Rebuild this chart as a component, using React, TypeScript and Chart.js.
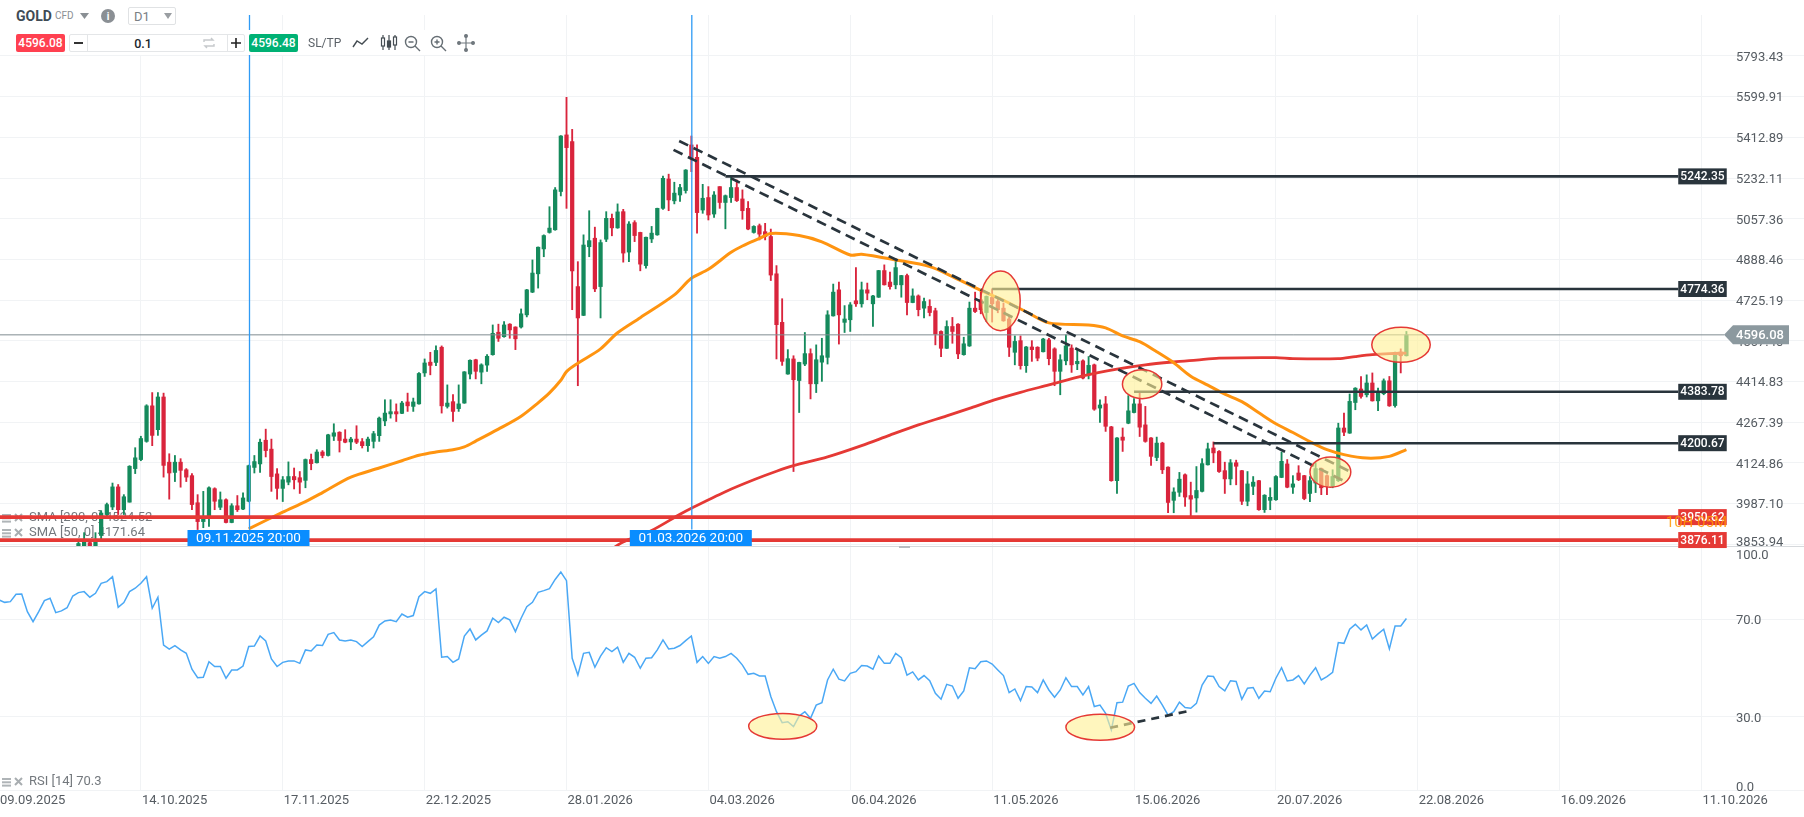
import React, { useEffect, useRef } from "react";
import { Chart, registerables } from "chart.js";

Chart.register(...registerables);

const firstCandle = 14;
const opens = [
3820,3830,3868,3810,3891,3959,3984,4051,3975,4000,4113,4144,4207,4333,4248,4365,4135,4100,4135,4109,
4089,3998,3936,3947,4045,3983,4008,3933,3988,3977,4003,4117,4129,4211,4180,4095,4046,4067,4086,4082,
4073,4144,4133,4170,4158,4225,4239,4215,4205,4215,4206,4192,4207,4227,4279,4304,4312,4306,4347,4331,
4340,4453,4493,4492,4549,4331,4348,4323,4343,4449,4502,4456,4482,4521,4606,4589,4637,4626,4626,4673,
4762,4835,4936,5004,5015,5177,5426,5396,4784,4671,4945,4980,4784,4976,5063,5023,5091,4923,5045,5004,
4868,4977,4994,5105,5231,5137,5162,5181,5381,5326,5098,5151,5081,5198,5130,5151,5194,5145,5105,5004,
5032,5007,4987,4835,4644,4449,4505,4425,4486,4525,4413,4493,4511,4669,4771,4644,4654,4728,4716,4771,
4716,4742,4848,4802,4791,4791,4828,4721,4747,4699,4706,4689,4609,4545,4628,4637,4521,4554,4699,4732,
4682,4741,4725,4699,4657,4530,4574,4480,4550,4549,4532,4577,4543,4459,4498,4546,4487,4498,4446,4483,
4325,4340,4258,4072,4222,4271,4309,4340,4265,4219,4151,4201,4118,4006,4033,4092,4022,4014,4036,4126,
4184,4172,4106,4078,4133,4106,4003,4053,4072,3975,4006,4008,4083,4129,4050,4098,4089,4029,4064,4113,
4089,4053,4072,4254,4236,4345,4394,4373,4416,4351,4377,4424,4334,4531,4517
];
const highs = [
3874,3900,3878,3900,3972,3997,4064,4059,4025,4123,4185,4225,4337,4381,4381,4379,4164,4158,4147,4113,
4096,4025,4036,4051,4048,4034,4011,3995,4022,4031,4125,4158,4215,4250,4215,4113,4086,4136,4115,4103,
4146,4163,4178,4175,4232,4269,4241,4248,4221,4262,4217,4222,4242,4293,4355,4355,4340,4349,4379,4361,
4454,4505,4530,4554,4554,4409,4374,4409,4458,4502,4504,4487,4521,4634,4637,4647,4639,4627,4696,4773,
4891,4944,4994,5112,5194,5423,5598,5451,4884,4994,5095,5026,4973,5091,5081,5124,5101,5049,5053,5005,
4985,5029,5106,5244,5252,5217,5208,5272,5421,5381,5208,5198,5177,5198,5162,5241,5227,5184,5134,5032,
5039,5042,5018,4868,4736,4540,4517,4493,4605,4543,4558,4583,4689,4794,4802,4709,4721,4860,4802,4798,
4749,4849,4871,4842,4895,4829,4834,4775,4751,4739,4732,4699,4611,4650,4663,4639,4587,4723,4762,4771,
4747,4775,4735,4719,4667,4592,4592,4552,4574,4551,4583,4583,4547,4521,4596,4558,4540,4502,4514,4486,
4355,4367,4260,4220,4254,4370,4359,4385,4331,4220,4222,4204,4119,4048,4100,4095,4067,4120,4147,4201,
4205,4175,4135,4144,4142,4107,4103,4086,4073,4025,4048,4089,4170,4144,4089,4123,4090,4086,4133,4115,
4092,4109,4271,4307,4376,4399,4440,4446,4453,4397,4431,4440,4531,4543,4609
];
const lows = [
3810,3815,3810,3800,3878,3953,3975,3959,3959,4000,4096,4140,4204,4192,4228,4084,4010,4069,4050,4069,
3975,3910,3916,3920,3975,3975,3932,3932,3969,3975,4001,4098,4100,4153,4036,4010,4002,4058,4044,4029,
4048,4109,4132,4150,4156,4210,4170,4202,4178,4199,4184,4172,4184,4207,4262,4289,4277,4305,4313,4313,
4339,4440,4446,4480,4307,4325,4277,4313,4342,4431,4431,4413,4459,4519,4571,4587,4583,4540,4622,4665,
4760,4778,4904,5001,5013,5158,5105,4693,4406,4670,4904,4764,4661,4966,4990,5021,4882,4884,4966,4847,
4858,4962,4992,5101,5095,5124,5134,5170,5263,5001,5084,5056,5067,5105,5019,5130,5134,5059,5015,5001,
4973,4973,4808,4505,4481,4448,4103,4309,4480,4358,4381,4422,4486,4668,4561,4605,4609,4706,4703,4732,
4628,4741,4790,4774,4775,4742,4673,4720,4669,4661,4669,4558,4514,4544,4564,4506,4519,4552,4682,4677,
4647,4645,4681,4648,4514,4483,4467,4455,4496,4498,4531,4483,4406,4373,4483,4455,4465,4431,4431,4317,
4274,4242,4070,4029,4172,4269,4308,4224,4204,4124,4140,4096,3965,3965,4019,3986,3948,3967,4034,4125,
4133,4100,4029,4058,4058,3992,3988,4025,3973,3966,3975,4006,4082,4048,4029,4072,4008,4002,4032,4025,
4025,4048,4069,4227,4235,4319,4361,4365,4350,4316,4373,4331,4328,4453,4516
];
const closes = [
3865,3872,3825,3878,3964,3992,4051,3975,4018,4121,4150,4217,4333,4228,4365,4124,4098,4135,4107,4084,
3992,3936,3947,4048,4003,4008,3933,3988,3975,4014,4123,4137,4204,4175,4086,4046,4075,4086,4075,4067,
4144,4130,4170,4158,4230,4237,4210,4204,4215,4204,4192,4215,4234,4289,4307,4312,4304,4343,4333,4347,
4451,4490,4481,4537,4333,4343,4313,4340,4457,4500,4459,4483,4515,4602,4583,4634,4615,4581,4677,4771,
4838,4943,4991,5022,5184,5421,5369,4847,4661,4952,4970,4775,4962,5063,5023,5090,4919,5039,4991,4874,
4984,5001,5105,5234,5141,5170,5194,5270,5321,5087,5148,5077,5162,5130,5159,5194,5138,5095,5018,5029,
4997,4987,4830,4635,4496,4506,4428,4492,4525,4413,4502,4517,4673,4762,4673,4657,4712,4716,4771,4758,
4747,4848,4791,4784,4860,4828,4721,4747,4693,4725,4682,4599,4545,4628,4609,4524,4562,4699,4686,4693,
4745,4716,4693,4650,4549,4571,4480,4550,4540,4508,4580,4506,4459,4502,4554,4483,4496,4434,4481,4321,
4336,4260,4072,4219,4211,4315,4340,4257,4207,4155,4201,4109,3999,4034,4077,4017,4010,4039,4130,4181,
4167,4103,4078,4133,4121,4003,4061,4067,3975,4023,4016,4086,4138,4050,4061,4075,4012,4072,4113,4048,
4055,4086,4254,4239,4349,4397,4367,4416,4351,4381,4424,4333,4528,4517,4596.08
];

const sma50Index = [44,50,54,57,62,67,71,74,77,80,82,84,88,92,95,97,99,100,102,106,109,113,119,122,125,129,131,134,136,141,145,150,152,158,164,168,173,177,181,185,192,195,198,201,204,207,210,213,216,219,222,225,228,231,234,237,241,245,248];
const sma50Values = [3912,3967,4002,4032,4084,4115,4140,4159,4170,4178,4188,4208,4250,4296,4344,4380,4426,4458,4489,4543,4604,4662,4751,4817,4853,4922,4948,4979,5000,4991,4965,4911,4914,4891,4864,4824,4769,4730,4685,4642,4634,4623,4592,4570,4532,4491,4441,4408,4375,4348,4308,4269,4238,4206,4178,4161,4149,4155,4178];
const sma200Index = [108,110,115,120,122,128,133,137,140,146,152,157,162,167,171,176,180,185,191,197,202,207,211,215,225,228,236,239,242,245,248];
const sma200Values = [3848,3870,3907,3960,3980,4035,4075,4104,4123,4153,4192,4229,4265,4297,4324,4358,4382,4409,4442,4467,4483,4494,4501,4508,4510,4506,4506,4514,4521,4525,4527];

const rsiValues = [
77.9,76.9,77.2,80.2,80.3,73.1,69.0,73.1,77.6,78.6,72.7,73.4,74.7,79.5,80.9,81.3,79.0,80.6,84.7,85.4,
87.4,74.9,76.8,81.3,82.7,84.7,87.4,74.5,79.0,59.4,57.7,59.2,57.4,56.0,49.5,46.0,46.2,52.6,50.6,50.6,
45.8,49.2,49.2,50.8,58.8,59.0,63.1,61.1,53.7,50.6,52.3,52.9,52.9,51.9,57.4,57.0,59.4,59.2,63.8,64.5,
61.5,61.1,61.5,60.8,58.8,60.8,62.8,67.6,69.3,69.7,69.0,72.1,70.8,71.5,79.2,81.3,80.6,82.4,54.4,54.7,
52.3,53.7,63.1,66.0,61.5,63.5,65.2,70.4,68.6,70.8,69.7,64.9,70.4,75.1,76.9,81.0,81.7,82.5,86.3,89.3,
85.8,54.0,47.1,56.0,56.4,50.3,54.9,58.3,56.7,58.5,52.3,56.0,54.4,49.9,54.0,54.2,57.4,61.5,57.8,58.1,
59.2,61.2,63.1,52.3,54.7,51.9,54.7,54.0,54.7,56.0,54.0,51.2,47.4,47.8,46.7,46.7,38.3,32.1,27.6,28.0,
26.0,30.3,32.1,29.4,34.8,35.8,45.1,49.5,45.4,44.7,47.8,48.5,51.0,50.8,49.5,54.9,51.9,51.9,56.0,54.2,
47.1,48.4,45.1,46.9,44.8,39.6,37.2,43.3,42.6,37.6,40.6,50.1,49.7,52.6,52.9,51.6,49.2,46.9,39.9,41.4,
36.6,42.4,42.2,39.9,45.1,41.0,38.0,41.0,46.0,42.4,42.4,39.0,42.4,34.2,34.8,31.4,24.6,35.8,36.0,42.6,
43.7,39.9,37.6,35.5,38.5,34.8,30.7,32.1,36.0,33.8,33.5,35.5,43.0,46.7,46.5,42.4,40.6,44.8,44.5,37.2,
41.7,42.0,37.6,40.6,40.3,45.8,50.1,44.7,45.1,46.9,43.5,47.1,50.1,45.1,46.5,48.2,60.4,60.1,65.9,67.9,
65.6,67.6,61.9,64.0,65.9,57.8,67.2,67.2,70.3
];

const dateTickIndex = [0,25,50,75,100,125,150,175,200,225,250,275,300];
const dateTickLabels = ["09.09.2025","14.10.2025","17.11.2025","22.12.2025","28.01.2026","04.03.2026","06.04.2026","11.05.2026","15.06.2026","20.07.2026","22.08.2026","16.09.2026","11.10.2026"];
const priceGridValues = [5793.43,5601.0,5414.9,5235.0,5061.1,4893.0,4730.5,4573.3,4421.4,4274.5,4132.5,3995.3,3862.6];
const priceTickLabels = ["5793.43","5599.91","5412.89","5232.11","5057.36","4888.46","4725.19","4567.40","4414.83","4267.39","4124.86","3987.10","3853.94"];
const rsiTicks = [100,70,30,0];

const priceMin = 3857;
const priceMax = 5994;
const indexMin = 0.176;
const indexMax = 318.06;
const lineEnd = 295.9;
const currentPrice = 4596.08;

const blackLevels = [5242.35,4774.36,4383.78,4200.67];
const blackLevelStart = [128,175,200,214];
const redLevels = [3950.62,3876.11];
const verticalIndex = [44.14,122.08];
const verticalLabels = ["09.11.2025 20:00","01.03.2026 20:00"];
const verticalBottom = 3910;

const trendUpperIndex = [119.85,238.07];
const trendUpperValues = [5399,4103];
const trendLowerIndex = [118.86,236.8];
const trendLowerValues = [5359,4073];
const rsiTrendIndex = [195.8,209.9];
const rsiTrendValues = [25.5,32.5];

const priceEllipses = [
  [173.0,179.95,4846,4612],
  [197.96,204.9,4465,4359],
  [231.0,238.2,4153,4050],
  [241.9,252.2,4625,4493],
];
const rsiEllipses = [
  [132.1,144.1,31.4,20.8],
  [188.0,200.1,31.0,20.4],
];

const GREEN = "#158a5c";
const RED = "#d9243c";
const DARK = "#29343c";
const LINE_RED = "#e53935";
const FONT = "Roboto";

const pts = (xs: number[], ys: number[]) => xs.map((x, i) => ({ x, y: ys[i] }));

const segment = (data: any[], color: string, width: number, yAxisID = "y", dash: number[] = [], order = 5, tension = 0) => ({
  type: "line" as const,
  data,
  borderColor: color,
  borderWidth: width,
  borderDash: dash,
  pointRadius: 0,
  pointHoverRadius: 0,
  tension,
  fill: false,
  yAxisID,
  order,
});

function drawIndicatorIcon(ctx: CanvasRenderingContext2D, y: number) {
  ctx.fillStyle = "rgba(110,118,124,0.55)";
  for (let i = 0; i < 3; i++) ctx.fillRect(2, y - 4 + i * 3.3, 9, 2);
  ctx.strokeStyle = "rgba(110,118,124,0.6)";
  ctx.lineWidth = 2;
  ctx.beginPath();
  ctx.moveTo(15, y - 4);
  ctx.lineTo(22, y + 3);
  ctx.moveTo(22, y - 4);
  ctx.lineTo(15, y + 3);
  ctx.stroke();
}

const overlayPlugin = {
  id: "overlay",
  beforeDraw(chart: any) {
    const { x, y, yRsi } = chart.scales;
    const AXIS_TEXT_X = 1736;
    [y, yRsi].forEach((scale: any) => {
      scale.getLabelItems().forEach((item: any) => {
        item.options.textAlign = "left";
        item.options.translation[0] = AXIS_TEXT_X;
        item.options.translation[1] += 1.5;
        if (item.label === "100.0") item.options.translation[1] += 8;
        if (item.label === "0.0") item.options.translation[1] -= 4;
        if (item.label === "3853.94") item.options.translation[1] -= 3;
      });
    });
    x.getLabelItems().forEach((item: any) => {
      item.options.translation[0] += 1;
    });
  },
  beforeDatasetsDraw(chart: any) {
    const ctx = chart.ctx;
    ctx.save();
    ctx.font = `13px ${FONT}`;
    ctx.textBaseline = "middle";
    ctx.textAlign = "left";
    [
      ["SMA [200, 0] 4524.52", 518],
      ["SMA [50, 0] 4171.64", 533],
      ["RSI [14] 70.3", 782],
    ].forEach(([text, py]: any) => {
      drawIndicatorIcon(ctx, py);
      ctx.fillStyle = "rgba(90,96,102,0.85)";
      ctx.fillText(text, 29, py);
    });
    ctx.restore();
  },
  afterDatasetsDraw(chart: any) {
    const ctx = chart.ctx;
    const { x, y, yRsi } = chart.scales;
    ctx.save();

    const ellipse = (scale: any, e: number[]) => {
      const l = x.getPixelForValue(e[0]);
      const r = x.getPixelForValue(e[1]);
      const t = scale.getPixelForValue(e[2]);
      const b = scale.getPixelForValue(e[3]);
      ctx.beginPath();
      ctx.ellipse((l + r) / 2, (t + b) / 2, (r - l) / 2, (b - t) / 2, 0, 0, Math.PI * 2);
      ctx.fillStyle = "rgba(255,240,150,0.62)";
      ctx.fill();
      ctx.strokeStyle = LINE_RED;
      ctx.lineWidth = 1.5;
      ctx.stroke();
    };
    priceEllipses.forEach((e) => ellipse(y, e));
    rsiEllipses.forEach((e) => ellipse(yRsi, e));

    ctx.font = `500 12px ${FONT}`;
    ctx.textAlign = "center";
    ctx.textBaseline = "middle";
    const boxL = x.getPixelForValue(lineEnd);
    const tag = (value: number, color: string) => {
      const py = y.getPixelForValue(value);
      ctx.fillStyle = color;
      ctx.fillRect(boxL, py - 8, 48.5, 16);
      ctx.fillStyle = "#ffffff";
      ctx.fillText(value.toFixed(2), boxL + 24.25, py + 0.5);
    };
    blackLevels.forEach((v) => tag(v, DARK));
    redLevels.forEach((v) => tag(v, LINE_RED));

    ctx.font = `15px ${FONT}`;
    ctx.textAlign = "right";
    ctx.fillStyle = "rgba(255,152,0,0.85)";
    ctx.fillText("10H 05M", 1727, 523);

    verticalIndex.forEach((t, i) => {
      const px = x.getPixelForValue(t);
      ctx.fillStyle = "#0a8dff";
      ctx.fillRect(px - 62, 530, 122, 16);
      ctx.fillStyle = "#ffffff";
      ctx.font = `13.5px ${FONT}`;
      ctx.textAlign = "center";
      ctx.fillText(verticalLabels[i], px - 1, 538.5);
    });

    const py = y.getPixelForValue(currentPrice);
    ctx.fillStyle = "#8c999f";
    ctx.beginPath();
    ctx.moveTo(1724, py);
    ctx.lineTo(1733, py - 9.5);
    ctx.lineTo(1789, py - 9.5);
    ctx.lineTo(1789, py + 9.5);
    ctx.lineTo(1733, py + 9.5);
    ctx.closePath();
    ctx.fill();
    ctx.fillStyle = "#ffffff";
    ctx.font = `500 13px ${FONT}`;
    ctx.textAlign = "left";
    ctx.fillText(currentPrice.toFixed(2), 1736, py + 1);

    ctx.fillStyle = "#b8bcc0";
    ctx.fillRect(899, 546, 11, 2);
    ctx.restore();
  },
};

const Btn: React.FC<{ left: number; top: number; width: number; height: number; style?: React.CSSProperties; children?: React.ReactNode }> = ({ left, top, width, height, style, children }) => (
  <div style={{ position: "absolute", left, top, width, height, display: "flex", alignItems: "center", justifyContent: "center", boxSizing: "border-box", ...style }}>{children}</div>
);

const Toolbar = () => (
  <div style={{ fontFamily: FONT }}>
    <div style={{ position: "absolute", left: 0, top: 0, width: 240, height: 30, background: "#fff" }} />
    <div style={{ position: "absolute", left: 0, top: 30, width: 480, height: 25, background: "#fff" }} />
    <div style={{ position: "absolute", left: 16, top: 7, fontSize: 14, fontWeight: 700, color: "#3f4b55", lineHeight: "18px" }}>GOLD</div>
    <div style={{ position: "absolute", left: 55, top: 9, fontSize: 10, color: "#8a8f94", lineHeight: "14px" }}>CFD</div>
    <svg style={{ position: "absolute", left: 80, top: 13 }} width="9" height="6"><path d="M0 0H9L4.5 6Z" fill="#8a8f94" /></svg>
    <Btn left={101} top={9} width={14} height={14} style={{ borderRadius: 7, background: "#8a8f94", color: "#fff", fontSize: 10, fontWeight: 700 }}>i</Btn>
    <Btn left={128} top={7} width={48} height={18} style={{ border: "1px solid #e0e2e4", borderRadius: 2, justifyContent: "flex-start", paddingLeft: 5, fontSize: 13, color: "#7a7f84" }}>D1</Btn>
    <svg style={{ position: "absolute", left: 164, top: 13 }} width="8" height="6"><path d="M0 0H8L4 6Z" fill="#9a9ea2" /></svg>

    <Btn left={16} top={34} width={49} height={18} style={{ background: "#ff4050", borderRadius: 2, color: "#fff", fontSize: 12, fontWeight: 500 }}>4596.08</Btn>
    <div style={{ position: "absolute", left: 69, top: 34, width: 176, height: 18, border: "1px solid #e4e6e8", borderRadius: 2, boxSizing: "border-box" }} />
    <div style={{ position: "absolute", left: 87, top: 34, width: 1, height: 18, background: "#e4e6e8" }} />
    <div style={{ position: "absolute", left: 227, top: 34, width: 1, height: 18, background: "#e4e6e8" }} />
    <svg style={{ position: "absolute", left: 74, top: 42 }} width="9" height="2"><rect width="9" height="2" fill="#333" /></svg>
    <Btn left={120} top={34} width={46} height={18} style={{ fontSize: 12.5, fontWeight: 500, color: "#20262b" }}>0.1</Btn>
    <svg style={{ position: "absolute", left: 203, top: 37 }} width="12" height="12" fill="none" stroke="#c6c9cc" strokeWidth="1.4"><path d="M1 5V3H10L8 1M11 7V9H2L4 11" /></svg>
    <svg style={{ position: "absolute", left: 231, top: 38 }} width="10" height="10"><path d="M0 4.2H10V5.8H0ZM4.2 0H5.8V10H4.2Z" fill="#222" /></svg>
    <Btn left={249} top={34} width={49} height={18} style={{ background: "#00b174", borderRadius: 2, color: "#fff", fontSize: 12, fontWeight: 500 }}>4596.48</Btn>
    <div style={{ position: "absolute", left: 308, top: 35, fontSize: 12, color: "#5c6268", lineHeight: "16px" }}>SL/TP</div>

    <svg style={{ position: "absolute", left: 352, top: 36 }} width="18" height="14" fill="none" stroke="#444c52" strokeWidth="1.4"><path d="M1 11L5 5L10 8L16 2" /></svg>
    <svg style={{ position: "absolute", left: 380, top: 34 }} width="18" height="18" fill="none" stroke="#444c52" strokeWidth="1.2"><path d="M3 1V16M9 1V16M15 1V16" /><rect x="1.5" y="4" width="3" height="8" fill="#fff" /><rect x="7.5" y="7" width="3" height="6" fill="#444c52" /><rect x="13.5" y="3" width="3" height="8" fill="#fff" /></svg>
    <svg style={{ position: "absolute", left: 404, top: 35 }} width="17" height="17" fill="none" stroke="#666e74" strokeWidth="1.4"><circle cx="7" cy="7" r="5.5" /><path d="M11 11L16 16M4.5 7H9.5" /></svg>
    <svg style={{ position: "absolute", left: 430, top: 35 }} width="17" height="17" fill="none" stroke="#666e74" strokeWidth="1.4"><circle cx="7" cy="7" r="5.5" /><path d="M11 11L16 16M4.5 7H9.5M7 4.5V9.5" /></svg>
    <svg style={{ position: "absolute", left: 457, top: 34 }} width="18" height="18" fill="#70787e" stroke="#70787e" strokeWidth="1.2"><path d="M9 1V17M1 9H17" /><circle cx="9" cy="2" r="1.4" /><circle cx="9" cy="16" r="1.4" /><circle cx="2" cy="9" r="1.4" /><circle cx="16" cy="9" r="1.4" /></svg>
  </div>
);

const noPadding = (s: any) => {
  s.paddingLeft = 0;
  s.paddingRight = 0;
  s.paddingTop = 0;
  s.paddingBottom = 0;
};

export default function App() {
  const ref = useRef<HTMLCanvasElement | null>(null);

  useEffect(() => {
    document.body.style.margin = "0";
    document.body.style.background = "#fff";
    const indices = opens.map((_, i) => firstCandle + i);
    const colors = opens.map((o, i) => (closes[i] >= o ? GREEN : RED));
    const chart = new Chart(ref.current as HTMLCanvasElement, {
      type: "bar",
      data: {
        datasets: [
          {
            type: "bar",
            data: indices.map((x, i) => ({ x, y: [lows[i], highs[i]] })),
            backgroundColor: colors,
            barThickness: 1.2,
            grouped: false,
            yAxisID: "y",
            order: 20,
          } as any,
          {
            type: "bar",
            data: indices.map((x, i) => ({ x, y: [opens[i], closes[i]] })),
            backgroundColor: colors,
            barThickness: 3.6,
            grouped: false,
            yAxisID: "y",
            order: 19,
          } as any,
          segment(pts(sma200Index, sma200Values), LINE_RED, 2.8, "y", [], 9, 0.3),
          segment(pts(sma50Index, sma50Values), "#ff9410", 3, "y", [], 8, 0.3),
          segment(pts([indexMin, 304], [currentPrice, currentPrice]), "#7f8b90", 1, "y", [], 15),
          ...verticalIndex.map((t) => segment(pts([t, t], [priceMax, verticalBottom]), "#2f9bf5", 1.3, "y", [], 7)),
          ...blackLevels.map((v, i) => segment(pts([blackLevelStart[i], lineEnd], [v, v]), DARK, 2.6)),
          ...redLevels.map((v) => segment(pts([indexMin, lineEnd], [v, v]), LINE_RED, 3.8)),
          segment(pts(trendUpperIndex, trendUpperValues), DARK, 2.7, "y", [10, 6]),
          segment(pts(trendLowerIndex, trendLowerValues), DARK, 2.7, "y", [10, 6]),
          segment(rsiValues.map((y, x) => ({ x, y })), "#4aa8f5", 1.5, "yRsi", [], 6),
          segment(pts(rsiTrendIndex, rsiTrendValues), DARK, 2.7, "yRsi", [8, 6], 4),
        ],
      },
      options: {
        responsive: false,
        devicePixelRatio: 1,
        animation: false,
        layout: { padding: { top: 15, left: 0, right: 0, bottom: 0 } },
        font: { family: FONT },
        plugins: { legend: { display: false }, tooltip: { enabled: false } },
        interaction: { mode: undefined as any },
        scales: {
          x: {
            type: "linear",
            offset: false,
            min: indexMin,
            max: indexMax,
            grid: { offset: false, color: "#f1f3f5", lineWidth: 1, drawTicks: false },
            border: { display: false },
            afterBuildTicks: (s: any) => { s.ticks = dateTickIndex.map((value) => ({ value })); },
            afterFit: (s: any) => { s.height = 27; noPadding(s); },
            ticks: {
              autoSkip: false,
              maxRotation: 0,
              minRotation: 0,
              align: "start",
              padding: 3,
              color: "#565c62",
              font: { family: FONT, size: 13 },
              callback: (v: any) => dateTickLabels[dateTickIndex.indexOf(Number(v))],
            },
          },
          y: {
            type: "logarithmic",
            position: "right",
            stack: "panes",
            stackWeight: 531,
            min: priceMin,
            max: priceMax,
            grid: { color: "#f1f3f5", lineWidth: 1, drawTicks: false },
            border: { display: false },
            afterBuildTicks: (s: any) => { s.ticks = priceGridValues.map((value) => ({ value })); },
            afterFit: (s: any) => { s.width = 0; noPadding(s); },
            ticks: {
              autoSkip: false,
              mirror: true,
              padding: 10,
              color: "#565c62",
              font: { family: FONT, size: 13 },
              callback: (v: any) => priceTickLabels[priceGridValues.indexOf(Number(v))],
            },
          } as any,
          yRsi: {
            type: "linear",
            position: "right",
            stack: "panes",
            stackWeight: 244,
            min: 0,
            max: 100,
            grid: {
              color: (c: any) => (c.tick && c.tick.value === 100 ? "#d6d9dc" : "#f1f3f5"),
              lineWidth: 1,
              drawTicks: false,
            },
            border: { display: false },
            afterBuildTicks: (s: any) => { s.ticks = rsiTicks.map((value) => ({ value })); },
            afterFit: (s: any) => { s.width = 0; noPadding(s); },
            ticks: {
              autoSkip: false,
              mirror: true,
              padding: 10,
              color: "#565c62",
              font: { family: FONT, size: 13 },
              callback: (v: any) => Number(v).toFixed(1),
            },
          } as any,
        },
      },
      plugins: [overlayPlugin],
    } as any);
    return () => chart.destroy();
  }, []);

  return (
    <div style={{ position: "absolute", left: 0, top: 0, width: 1804, height: 817, overflow: "hidden", background: "#fff" }}>
      <canvas ref={ref} width={1804} height={817} style={{ display: "block" }} />
      <Toolbar />
    </div>
  );
}
